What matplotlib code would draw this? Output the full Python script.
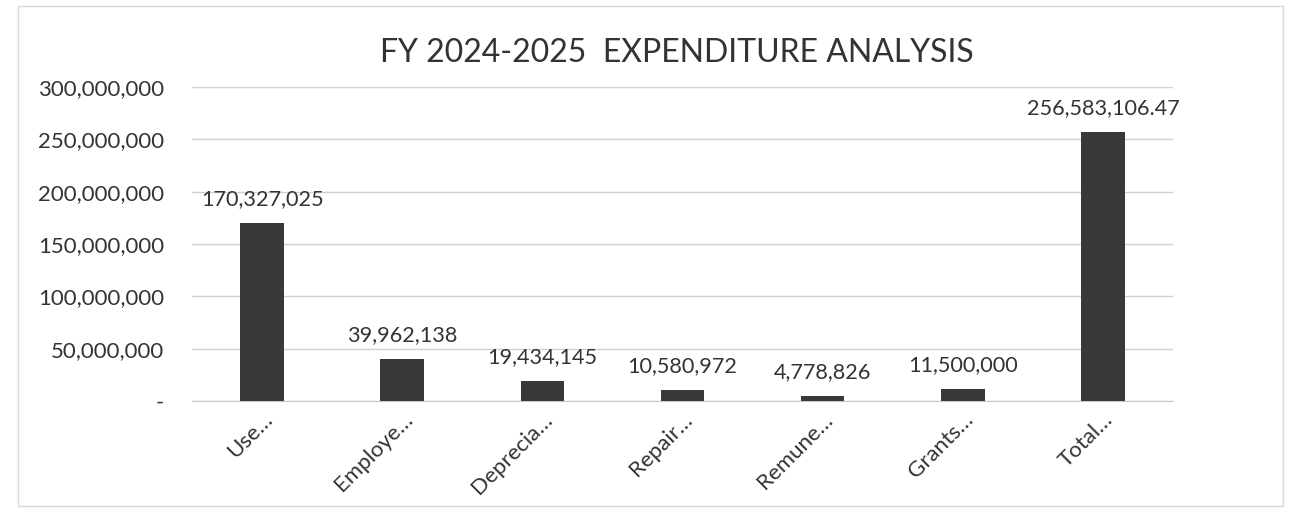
import matplotlib
matplotlib.use("Agg")
import matplotlib.pyplot as plt
from matplotlib.ticker import FuncFormatter
from matplotlib.patches import Rectangle

categories = ["Use…", "Employe…", "Deprecia…", "Repair…", "Remune…", "Grants…", "Total…"]
values = [170327025, 39962138, 19434145, 10580972, 4778826, 11500000, 256583106.47]
value_labels = ["170,327,025", "39,962,138", "19,434,145", "10,580,972", "4,778,826", "11,500,000", "256,583,106.47"]
yticks = [0, 50000000, 100000000, 150000000, 200000000, 250000000, 300000000]

plt.rcParams['font.family'] = ['Lato', 'DejaVu Sans']
txt = '#333333'

fig = plt.figure(figsize=(12.96, 5.11), dpi=100)
ax = fig.add_axes([192/1296, 1 - 401/511, (1173-192)/1296, (401-87)/511])

x = range(len(categories))
ax.bar(x, values, width=0.31, color='#39393b', zorder=3)
for xi, v, lab in zip(x, values, value_labels):
    ax.annotate(lab, (xi, v), xytext=(0, 10), textcoords='offset points',
                ha='center', va='bottom', fontsize=15.6, color=txt)

ax.set_ylim(0, 300000000)
ax.set_xlim(-0.5, len(categories) - 0.5)
ax.set_yticks(yticks)
ax.yaxis.set_major_formatter(FuncFormatter(lambda v, p: '-' if v == 0 else f"{int(v):,}"))
ax.set_xticks(list(x))
ax.set_xticklabels(categories, rotation=45, ha='right', va='top', rotation_mode='anchor', fontsize=16, color=txt)
ax.tick_params(axis='both', length=0, labelsize=16, labelcolor=txt)
ax.tick_params(axis='y', pad=20)
ax.tick_params(axis='x', pad=6)
for lbl in ax.get_xticklabels():
    lbl.set_x(lbl.get_position()[0])
ax.grid(axis='y', color='#d0d0d0', linewidth=1, zorder=0)
for s in ['top', 'right', 'left']:
    ax.spines[s].set_visible(False)
ax.spines['bottom'].set_color('#c8c8c8')

fig.text((383+970)/2/1296, 1 - 53/511, "FY 2024-2025  EXPENDITURE ANALYSIS", ha='center', va='center',
         fontsize=23, color=txt)

fig.patches.append(Rectangle((18/1296, 5/511), (1283-18)/1296, (505-5)/511, transform=fig.transFigure,
                             fill=False, edgecolor='#d8d8d8', linewidth=1))

fig.savefig("out.png", dpi=100, facecolor='white')
